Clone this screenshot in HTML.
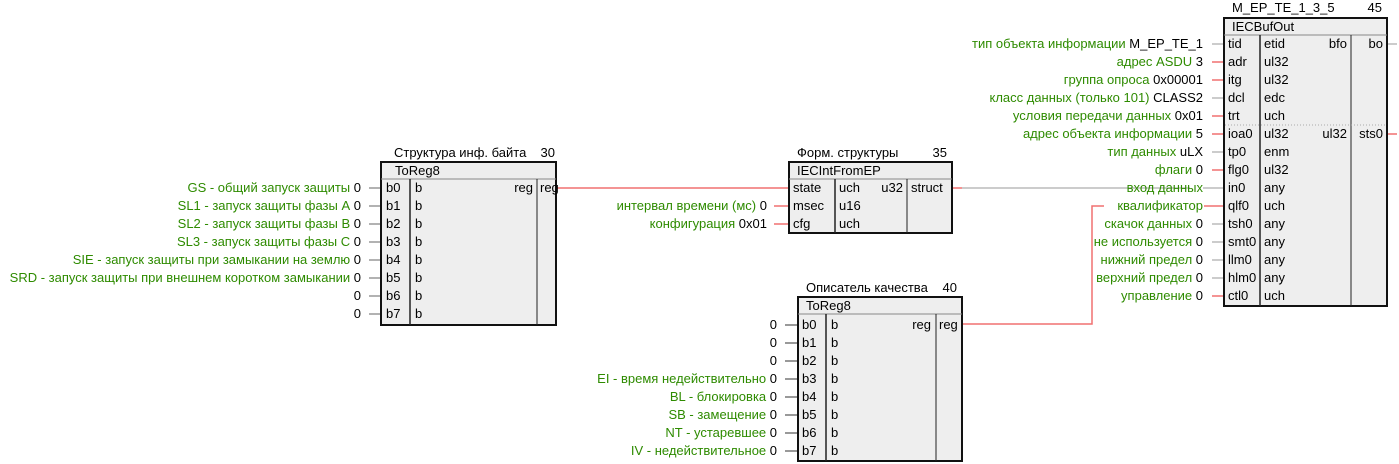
<!DOCTYPE html>
<html><head><meta charset="utf-8"><style>
html,body{margin:0;padding:0;background:#fff;}
svg{display:block;font-family:"Liberation Sans","DejaVu Sans",sans-serif;font-size:13px;}
.g{fill:#2e8b00}.k{fill:#000}
</style></head><body>
<svg width="1399" height="464" viewBox="0 0 1399 464" xmlns="http://www.w3.org/2000/svg">
<g fill="none" stroke-width="1.5">
<line x1="556" y1="188" x2="789" y2="188" stroke="#f07070"/>
<line x1="952" y1="188" x2="962" y2="188" stroke="#f07070"/>
<line x1="962" y1="188" x2="1190" y2="188" stroke="#bbb"/>
<line x1="1203" y1="188" x2="1224" y2="188" stroke="#bbb"/>
<polyline points="962,324 1092,324 1092,206 1104,206" stroke="#f07070"/>
<line x1="1204" y1="206" x2="1224" y2="206" stroke="#f07070"/>
<line x1="1387" y1="44" x2="1397" y2="44" stroke="#bbb"/>
<line x1="1387" y1="134" x2="1397" y2="134" stroke="#f07070"/>
</g>
<g stroke="#999" stroke-width="1.5">
<line x1="369" y1="188" x2="381" y2="188"/><line x1="369" y1="206" x2="381" y2="206"/>
<line x1="369" y1="224" x2="381" y2="224"/><line x1="369" y1="242" x2="381" y2="242"/>
<line x1="369" y1="260" x2="381" y2="260"/><line x1="369" y1="278" x2="381" y2="278"/>
<line x1="369" y1="296" x2="381" y2="296"/><line x1="369" y1="314" x2="381" y2="314"/>
</g>
<g stroke="#f07070" stroke-width="1.5">
<line x1="774" y1="206" x2="789" y2="206"/><line x1="774" y1="224" x2="789" y2="224"/>
</g>
<g stroke="#555" stroke-width="1.2">
<line x1="785" y1="325" x2="798" y2="325"/><line x1="785" y1="343" x2="798" y2="343"/>
<line x1="785" y1="361" x2="798" y2="361"/><line x1="785" y1="379" x2="798" y2="379"/>
<line x1="785" y1="397" x2="798" y2="397"/><line x1="785" y1="415" x2="798" y2="415"/>
<line x1="785" y1="433" x2="798" y2="433"/><line x1="785" y1="451" x2="798" y2="451"/>
</g>
<g stroke-width="1.5">
<line x1="1212" y1="44" x2="1224" y2="44" stroke="#bbb"/>
<line x1="1212" y1="62" x2="1224" y2="62" stroke="#f07070"/>
<line x1="1212" y1="80" x2="1224" y2="80" stroke="#f07070"/>
<line x1="1212" y1="98" x2="1224" y2="98" stroke="#bbb"/>
<line x1="1212" y1="116" x2="1224" y2="116" stroke="#f07070"/>
<line x1="1212" y1="134" x2="1224" y2="134" stroke="#f07070"/>
<line x1="1212" y1="152" x2="1224" y2="152" stroke="#bbb"/>
<line x1="1212" y1="170" x2="1224" y2="170" stroke="#f07070"/>
<line x1="1212" y1="224" x2="1224" y2="224" stroke="#bbb"/>
<line x1="1212" y1="242" x2="1224" y2="242" stroke="#bbb"/>
<line x1="1212" y1="260" x2="1224" y2="260" stroke="#bbb"/>
<line x1="1212" y1="278" x2="1224" y2="278" stroke="#bbb"/>
<line x1="1212" y1="296" x2="1224" y2="296" stroke="#f07070"/>
</g>

<text x="394" y="157">Структура инф. байта</text><text x="555" y="157" text-anchor="end">30</text>
<rect x="381" y="162" width="175" height="163" fill="#eeeeee" stroke="#111" stroke-width="2"/>
<line x1="381" y1="179" x2="556" y2="179" stroke="#888"/>
<line x1="410" y1="179" x2="410" y2="325" stroke="#222" stroke-width="1.5"/>
<line x1="537" y1="179" x2="537" y2="325" stroke="#222"/>
<text x="395" y="175">ToReg8</text>
<g>
<text x="386" y="192">b0</text><text x="386" y="210">b1</text><text x="386" y="228">b2</text><text x="386" y="246">b3</text>
<text x="386" y="264">b4</text><text x="386" y="282">b5</text><text x="386" y="300">b6</text><text x="386" y="318">b7</text>
<text x="415" y="192">b</text><text x="415" y="210">b</text><text x="415" y="228">b</text><text x="415" y="246">b</text>
<text x="415" y="264">b</text><text x="415" y="282">b</text><text x="415" y="300">b</text><text x="415" y="318">b</text>
<text x="533" y="192" text-anchor="end">reg</text><text x="540" y="192">reg</text>
</g>
<g text-anchor="end">
<text x="361" y="192"><tspan class="g">GS - общий запуск защиты </tspan><tspan class="k">0</tspan></text>
<text x="361" y="210"><tspan class="g">SL1 - запуск защиты фазы А </tspan><tspan class="k">0</tspan></text>
<text x="361" y="228"><tspan class="g">SL2 - запуск защиты фазы В </tspan><tspan class="k">0</tspan></text>
<text x="361" y="246"><tspan class="g">SL3 - запуск защиты фазы С </tspan><tspan class="k">0</tspan></text>
<text x="361" y="264"><tspan class="g">SIE - запуск защиты при замыкании на землю </tspan><tspan class="k">0</tspan></text>
<text x="361" y="282"><tspan class="g">SRD - запуск защиты при внешнем коротком замыкании </tspan><tspan class="k">0</tspan></text>
<text x="361" y="300">0</text><text x="361" y="318">0</text>
</g>

<text x="797" y="157">Форм. структуры</text><text x="947" y="157" text-anchor="end">35</text>
<rect x="789" y="162" width="163" height="71" fill="#eeeeee" stroke="#111" stroke-width="2"/>
<line x1="789" y1="179" x2="952" y2="179" stroke="#888"/>
<line x1="835" y1="179" x2="835" y2="233" stroke="#222" stroke-width="1.5"/>
<line x1="907" y1="179" x2="907" y2="233" stroke="#222"/>
<text x="797" y="175">IECIntFromEP</text>
<text x="793" y="192">state</text><text x="793" y="210">msec</text><text x="793" y="228">cfg</text>
<text x="839" y="192">uch</text><text x="839" y="210">u16</text><text x="839" y="228">uch</text>
<text x="903" y="192" text-anchor="end">u32</text><text x="911" y="192">struct</text>
<g text-anchor="end">
<text x="767" y="210"><tspan class="g">интервал времени (мс) </tspan><tspan class="k">0</tspan></text>
<text x="767" y="228"><tspan class="g">конфигурация </tspan><tspan class="k">0x01</tspan></text>
</g>

<text x="806" y="292">Описатель качества</text><text x="957" y="292" text-anchor="end">40</text>
<rect x="798" y="297" width="164" height="164" fill="#eeeeee" stroke="#111" stroke-width="2"/>
<line x1="798" y1="314" x2="962" y2="314" stroke="#888"/>
<line x1="826" y1="314" x2="826" y2="461" stroke="#222" stroke-width="1.5"/>
<line x1="936" y1="314" x2="936" y2="461" stroke="#222"/>
<text x="806" y="310">ToReg8</text>
<text x="802" y="329">b0</text><text x="802" y="347">b1</text><text x="802" y="365">b2</text><text x="802" y="383">b3</text>
<text x="802" y="401">b4</text><text x="802" y="419">b5</text><text x="802" y="437">b6</text><text x="802" y="455">b7</text>
<text x="831" y="329">b</text><text x="831" y="347">b</text><text x="831" y="365">b</text><text x="831" y="383">b</text>
<text x="831" y="401">b</text><text x="831" y="419">b</text><text x="831" y="437">b</text><text x="831" y="455">b</text>
<text x="931" y="329" text-anchor="end">reg</text><text x="939" y="329">reg</text>
<g text-anchor="end">
<text x="777" y="329">0</text><text x="777" y="347">0</text><text x="777" y="365">0</text>
<text x="777" y="383"><tspan class="g">EI - время недействительно </tspan><tspan class="k">0</tspan></text>
<text x="777" y="401"><tspan class="g">BL - блокировка </tspan><tspan class="k">0</tspan></text>
<text x="777" y="419"><tspan class="g">SB - замещение </tspan><tspan class="k">0</tspan></text>
<text x="777" y="437"><tspan class="g">NT - устаревшее </tspan><tspan class="k">0</tspan></text>
<text x="777" y="455"><tspan class="g">IV - недействительное </tspan><tspan class="k">0</tspan></text>
</g>

<text x="1232" y="12">M_EP_TE_1_3_5</text><text x="1382" y="12" text-anchor="end">45</text>
<rect x="1224" y="18" width="163" height="288" fill="#eeeeee" stroke="#111" stroke-width="2"/>
<line x1="1224" y1="35" x2="1387" y2="35" stroke="#888"/>
<line x1="1260" y1="35" x2="1260" y2="306" stroke="#222" stroke-width="1.5"/>
<line x1="1351" y1="35" x2="1351" y2="306" stroke="#222"/>
<line x1="1225" y1="125" x2="1386" y2="125" stroke="#aaa" stroke-dasharray="1,2"/>
<text x="1232" y="31">IECBufOut</text>
<g>
<text x="1228" y="48">tid</text><text x="1228" y="66">adr</text><text x="1228" y="84">itg</text><text x="1228" y="102">dcl</text>
<text x="1228" y="120">trt</text><text x="1228" y="138">ioa0</text><text x="1228" y="156">tp0</text><text x="1228" y="174">flg0</text>
<text x="1228" y="192">in0</text><text x="1228" y="210">qlf0</text><text x="1228" y="228">tsh0</text><text x="1228" y="246">smt0</text>
<text x="1228" y="264">llm0</text><text x="1228" y="282">hlm0</text><text x="1228" y="300">ctl0</text>
<text x="1264" y="48">etid</text><text x="1264" y="66">ul32</text><text x="1264" y="84">ul32</text><text x="1264" y="102">edc</text>
<text x="1264" y="120">uch</text><text x="1264" y="138">ul32</text><text x="1264" y="156">enm</text><text x="1264" y="174">ul32</text>
<text x="1264" y="192">any</text><text x="1264" y="210">uch</text><text x="1264" y="228">any</text><text x="1264" y="246">any</text>
<text x="1264" y="264">any</text><text x="1264" y="282">any</text><text x="1264" y="300">uch</text>
<text x="1347" y="48" text-anchor="end">bfo</text><text x="1347" y="138" text-anchor="end">ul32</text>
<text x="1383" y="48" text-anchor="end">bo</text><text x="1383" y="138" text-anchor="end">sts0</text>
</g>
<g text-anchor="end">
<text x="1203" y="48"><tspan class="g">тип объекта информации </tspan><tspan class="k">M_EP_TE_1</tspan></text>
<text x="1203" y="66"><tspan class="g">адрес ASDU </tspan><tspan class="k">3</tspan></text>
<text x="1203" y="84"><tspan class="g">группа опроса </tspan><tspan class="k">0x00001</tspan></text>
<text x="1203" y="102"><tspan class="g">класс данных (только 101) </tspan><tspan class="k">CLASS2</tspan></text>
<text x="1203" y="120"><tspan class="g">условия передачи данных </tspan><tspan class="k">0x01</tspan></text>
<text x="1203" y="138"><tspan class="g">адрес объекта информации </tspan><tspan class="k">5</tspan></text>
<text x="1203" y="156"><tspan class="g">тип данных </tspan><tspan class="k">uLX</tspan></text>
<text x="1203" y="174"><tspan class="g">флаги </tspan><tspan class="k">0</tspan></text>
<text x="1203" y="192" class="g">вход данных</text>
<text x="1203" y="210" class="g">квалификатор</text>
<text x="1203" y="228"><tspan class="g">скачок данных </tspan><tspan class="k">0</tspan></text>
<text x="1203" y="246"><tspan class="g">не используется </tspan><tspan class="k">0</tspan></text>
<text x="1203" y="264"><tspan class="g">нижний предел </tspan><tspan class="k">0</tspan></text>
<text x="1203" y="282"><tspan class="g">верхний предел </tspan><tspan class="k">0</tspan></text>
<text x="1203" y="300"><tspan class="g">управление </tspan><tspan class="k">0</tspan></text>
</g>
</svg>
</body></html>
